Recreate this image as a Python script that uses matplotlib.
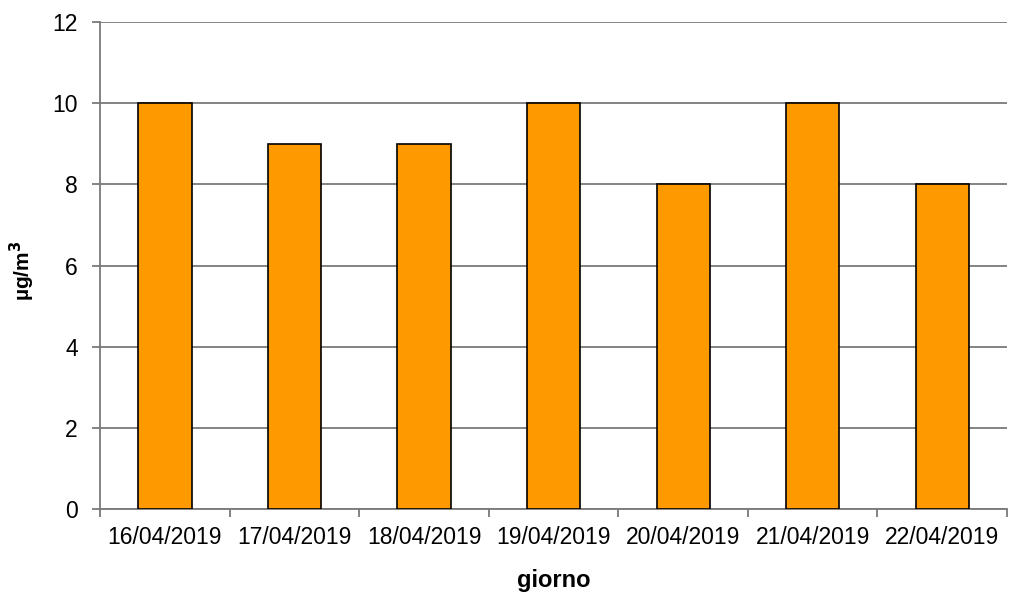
import numpy as np
import matplotlib.pyplot as plt
from matplotlib.ticker import FixedLocator

plt.rcParams['font.family'] = ['Liberation Sans', 'DejaVu Sans']

# data
days = ["16/04/2019", "17/04/2019", "18/04/2019", "19/04/2019",
        "20/04/2019", "21/04/2019", "22/04/2019"]
values = [10, 9, 9, 10, 8, 10, 8]
y_ticks = [0, 2, 4, 6, 8, 10, 12]

fig = plt.figure(figsize=(10.12, 5.96), dpi=100)
ax = fig.add_axes([0.099, 0.146, 0.896, 0.817])

x = np.arange(len(days))
ax.bar(x, values, width=0.41, color='#FF9900', edgecolor='black', linewidth=1.2, zorder=3)

ax.set_xlim(-0.5, len(days) - 0.5)
ax.set_ylim(0, 12)
ax.set_yticks(y_ticks)
ax.yaxis.grid(True, color='#7a7a7a', linewidth=1.3, zorder=0)

ax.set_xticks(x)
ax.set_xticklabels(days, fontsize=16.5)
ax.tick_params(axis='x', which='major', length=0, pad=12)
ax.xaxis.set_minor_locator(FixedLocator(np.arange(-0.5, len(days), 1.0)))
ax.tick_params(axis='x', which='minor', length=6, color='#7a7a7a', width=1.3)
ax.tick_params(axis='y', length=6, color='#7a7a7a', width=1.3, labelsize=16.5, pad=10)

for side in ['top', 'right']:
    ax.spines[side].set_visible(False)
for side in ['left', 'bottom']:
    ax.spines[side].set_color('#7a7a7a')
    ax.spines[side].set_linewidth(1.3)

ax.set_xlabel("giorno", fontsize=17, fontweight='bold', labelpad=15)
ax.set_ylabel("µg/m$^\\mathbf{3}$", fontsize=15, fontweight='bold')
ax.yaxis.set_label_coords(-0.07, 0.49)

fig.savefig("out.png", dpi=100)
